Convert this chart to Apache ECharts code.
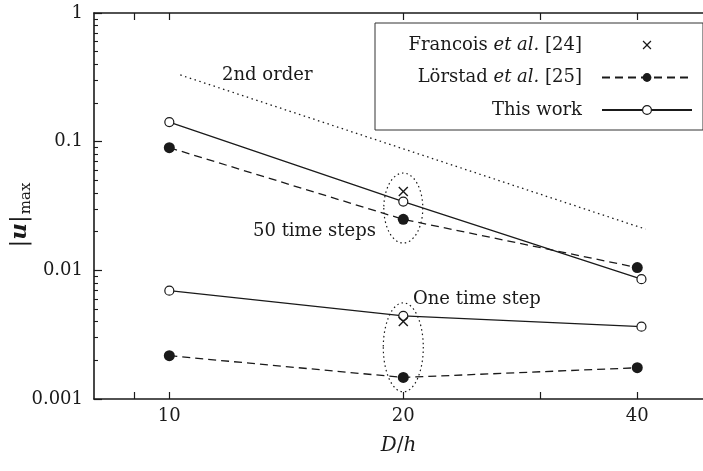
<!DOCTYPE html>
<html><head><meta charset="utf-8">
<script src="https://cdn.jsdelivr.net/npm/echarts@6/dist/echarts.min.js"></script>
<style>html,body{margin:0;padding:0;background:#fff}#c{width:703px;height:471px}</style>
</head><body><div id="c"></div>
<script>
// ---- data ----
const xTickLabels = [10, 20, 40];
const xMinorTicks = [9, 30];
const yTickLabels = [0.001, 0.01, 0.1, 1];
const yMinorTicks = [0.002,0.003,0.004,0.005,0.006,0.007,0.008,0.009,
                     0.02,0.03,0.04,0.05,0.06,0.07,0.08,0.09,
                     0.2,0.3,0.4,0.5,0.6,0.7,0.8,0.9];
const thisWork50 = [[10,0.142],[20,0.0342],[40.5,0.00853]];
const thisWork1  = [[10,0.00695],[20,0.00442],[40.5,0.00365]];
const lorstad50  = [[10,0.0898],[20,0.0249],[40,0.0105]];
const lorstad1   = [[10,0.00217],[20,0.00147],[40,0.00175]];
const francois50 = [[20,0.0409]];
const francois1  = [[20,0.0040]];
const secondOrder = [[10.33,0.33],[41,0.0209]];
const ellipseCenters = [[20,0.0305],[20,0.00252]];
const legendNames = ['Francois et al. [24]','Lörstad et al. [25]','This work'];

// ---- styles ----
const FONT = 'DejaVu Serif';
const FS = 18;
const INK = '#1a1a1a';
const ellipseRadii = [[19.5,35],[20,44.5]];
const crossPath = 'path://M0,1L1,0L5,4L9,0L10,1L6,5L10,9L9,10L5,6L1,10L0,9L4,5Z';

const chart = echarts.init(document.getElementById('c'), null, {renderer:'canvas'});

const openStyle = {color:'#fff', borderColor:INK, borderWidth:1.2};
const solidLine = {color:INK, width:1.3, type:'solid'};
const dashLine = {color:INK, width:1.3, type:[8,5]};

function lineSeries(name, data, opts){
  return Object.assign({type:'line', name, data, z:3, animation:false}, opts);
}

const xBase = {
  type:'log', min:8, max:48.6, logBase:10,
  axisLine:{show:true, lineStyle:{color:INK, width:1.6}},
  splitLine:{show:false}, minorTick:{show:false}
};
const textFont = FS + 'px "' + FONT + '"';

chart.setOption({
  animation:false,
  backgroundColor:'#fff',
  grid:{left:94, top:13, right:0, bottom:72, containLabel:false, outerBoundsMode:'none'},
  legend:{
    show:true, orient:'vertical', left:375, top:23, align:'right',
    padding:[12,10,10,7], itemGap:12.5, itemWidth:90, itemHeight:11,
    borderColor:'#333', borderWidth:1, backgroundColor:'#fff',
    data:legendNames.map((n, i) => i === 2 ? {name:n, itemStyle:{borderWidth:1.2}} : n),
    selectedMode:false,
    formatter: function(name){
      const parts = name.split(' et al. ');
      if (parts.length === 2) return '{n|' + parts[0] + ' }{i|et al.}{n| ' + parts[1] + '}';
      return '{n|' + name + '}';
    },
    textStyle:{width:200, align:'right', padding:[0,15,0,0], lineHeight:20,
      fontFamily:FONT, fontSize:FS, color:INK,
      rich:{n:{fontFamily:FONT, fontSize:FS, color:INK, align:'right'},
            i:{fontFamily:FONT, fontSize:FS, fontStyle:'italic', color:INK, align:'right'}}}
  },
  xAxis:[
    Object.assign({}, xBase, {
      position:'bottom',
      name:'{i|D}{n|/}{i|h}', nameLocation:'middle', nameGap:37,
      nameTextStyle:{rich:{i:{fontFamily:FONT, fontSize:20, fontStyle:'italic', color:INK},
                           n:{fontFamily:FONT, fontSize:20, color:INK}}},
      axisTick:{show:true, inside:true, length:7, customValues:xTickLabels.concat(xMinorTicks),
                lineStyle:{color:INK, width:1.2}},
      axisLabel:{show:true, customValues:xTickLabels, margin:8,
                 fontFamily:FONT, fontSize:FS, color:INK}
    }),
    Object.assign({}, xBase, {
      position:'top',
      axisTick:{show:true, inside:true, length:7, customValues:xTickLabels.concat(xMinorTicks),
                lineStyle:{color:INK, width:1.2}},
      axisLabel:{show:false}
    })
  ],
  yAxis:[
    {
      type:'log', min:0.001, max:1, logBase:10, position:'left',
      axisLine:{show:true, lineStyle:{color:INK, width:1.6}},
      splitLine:{show:false},
      axisTick:{show:true, inside:true, length:8, customValues:yTickLabels, lineStyle:{color:INK, width:1.2}},
      axisLabel:{show:true, customValues:yTickLabels, margin:11, fontFamily:FONT, fontSize:FS, color:INK,
                 formatter: v => String(+v.toPrecision(3))},
      name:'{n||}{u|u}{n||}{s|max}', nameLocation:'middle', nameGap:60, nameMoveOverlap:false,
      nameTextStyle:{padding:[0,18,0,0], rich:{
        n:{fontFamily:FONT, fontSize:23, color:INK},
        u:{fontFamily:FONT, fontSize:23, fontWeight:'bold', fontStyle:'italic', color:INK},
        s:{fontFamily:FONT, fontSize:15, color:INK, verticalAlign:'bottom', padding:[12,0,0,1]}}}
    },
    {
      type:'log', min:0.001, max:1, logBase:10, position:'left',
      axisLine:{show:false}, splitLine:{show:false},
      axisTick:{show:true, inside:true, length:4, customValues:yMinorTicks, lineStyle:{color:INK, width:1.1}},
      axisLabel:{show:false}
    }
  ],
  graphic:[
    {type:'text', left:222, top:66, style:{text:'2nd order', font:textFont, fill:INK}},
    {type:'text', left:253, top:222, style:{text:'50 time steps', font:textFont, fill:INK}},
    {type:'text', left:413, top:290, style:{text:'One time step', font:textFont, fill:INK}}
  ],
  series:[
    {
      type:'custom', name:'ellipses', coordinateSystem:'cartesian2d', data:ellipseCenters, silent:true, z:1,
      renderItem:function(params, api){
        const p = api.coord([api.value(0), api.value(1)]);
        const r = ellipseRadii[params.dataIndex];
        return {type:'path',
          shape:{pathData:'M-1,0A1,1 0 1 0 1,0A1,1 0 1 0 -1,0Z', x:p[0]-r[0], y:p[1]-r[1], width:2*r[0], height:2*r[1], layout:'cover'},
          style:{fill:'none', stroke:INK, lineWidth:1.2, lineDash:[1.5,3]}};
      }
    },
    lineSeries('2nd order line', secondOrder, {symbol:'none', lineStyle:{color:INK, width:1.3, type:[1.5,3.5]}, z:2}),
    lineSeries('This work', thisWork50, {symbol:'circle', symbolSize:9, itemStyle:openStyle, lineStyle:solidLine}),
    lineSeries('This work', thisWork1, {symbol:'circle', symbolSize:9, itemStyle:openStyle, lineStyle:solidLine}),
    lineSeries('Lörstad et al. [25]', lorstad50, {symbol:'circle', symbolSize:11, itemStyle:{color:INK}, lineStyle:dashLine}),
    lineSeries('Lörstad et al. [25]', lorstad1, {symbol:'circle', symbolSize:11, itemStyle:{color:INK}, lineStyle:dashLine}),
    lineSeries('Francois et al. [24]', francois50, {symbol:crossPath, symbolSize:10, itemStyle:{color:INK}, lineStyle:{color:INK, opacity:0, width:0}, z:4}),
    lineSeries('Francois et al. [24]', francois1, {symbol:crossPath, symbolSize:10, itemStyle:{color:INK}, lineStyle:{color:INK, opacity:0, width:0}, z:4})
  ]
});
</script></body></html>
